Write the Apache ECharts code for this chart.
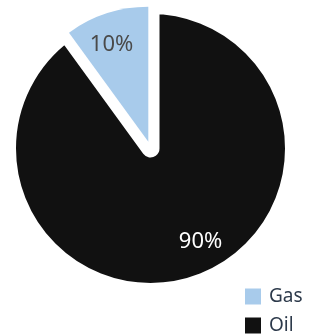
<!DOCTYPE html>
<html>
<head>
<meta charset="utf-8">
<script src="https://cdn.jsdelivr.net/npm/echarts@6/dist/echarts.min.js"></script>
<style>
  html, body { margin: 0; padding: 0; background: #fff; }
  #chart { width: 326px; height: 334px; }
</style>
</head>
<body>
<div id="chart"></div>
<script>
const categories = ['Oil', 'Gas'];
const values = [90, 10];
const colors = ['#111111', '#a8cbeb'];
const labelColors = ['#ffffff', '#4a4a4a'];
const legendOrder = ['Gas', 'Oil'];

const font = '"Noto Sans", sans-serif';
const center = [150.5, 148.5];
const clear = 'rgba(0,0,0,0)';

const chart = echarts.init(document.getElementById('chart'));

// back layer: the oil slice, its thick white border makes the gap
const backData = categories.map((name, i) => ({
  name: name,
  value: values[i],
  itemStyle: name === 'Oil'
    ? { color: colors[i], borderColor: '#fff', borderWidth: 18, borderJoin: 'round' }
    : { color: clear, borderWidth: 0 },
  label: { show: name === 'Oil', color: labelColors[i] }
}));

// front layer: the gas slice, pulled out a little
const frontData = categories.map((name, i) => ({
  name: name,
  value: values[i],
  selected: name === 'Gas',
  itemStyle: name === 'Gas' ? { color: colors[i] } : { color: clear },
  label: { show: name === 'Gas', color: labelColors[i] }
}));

chart.setOption({
  animation: false,
  legend: {
    orient: 'vertical',
    left: 245,
    top: 287,
    height: 80,
    padding: 0,
    icon: 'rect',
    itemWidth: 16,
    itemHeight: 16,
    itemGap: 10,
    itemStyle: { borderWidth: 0 },
    textStyle: { fontFamily: font, fontSize: 19, color: '#2d3a4b', padding: [0, 0, 0, 3] },
    data: legendOrder.map(n => ({ name: n, itemStyle: { color: colors[categories.indexOf(n)], borderWidth: 0 } }))
  },
  series: [
    {
      type: 'pie',
      z: 1,
      center: center,
      radius: [0, 143.5],
      startAngle: 90,
      clockwise: true,
      silent: true,
      label: { position: 'inside', formatter: '{d}%', fontFamily: font, fontSize: 22 },
      labelLine: { show: false },
      labelLayout: () => ({ dx: 27, dy: 22 }),
      data: backData
    },
    {
      type: 'pie',
      z: 2,
      center: center,
      radius: [0, 135],
      startAngle: 90,
      clockwise: true,
      silent: true,
      selectedMode: 'single',
      selectedOffset: 7,
      label: { position: 'inside', formatter: '{d}%', fontFamily: font, fontSize: 22 },
      labelLine: { show: false },
      labelLayout: () => ({ dx: -15, dy: -30 }),
      data: frontData
    }
  ]
});
</script>
</body>
</html>
